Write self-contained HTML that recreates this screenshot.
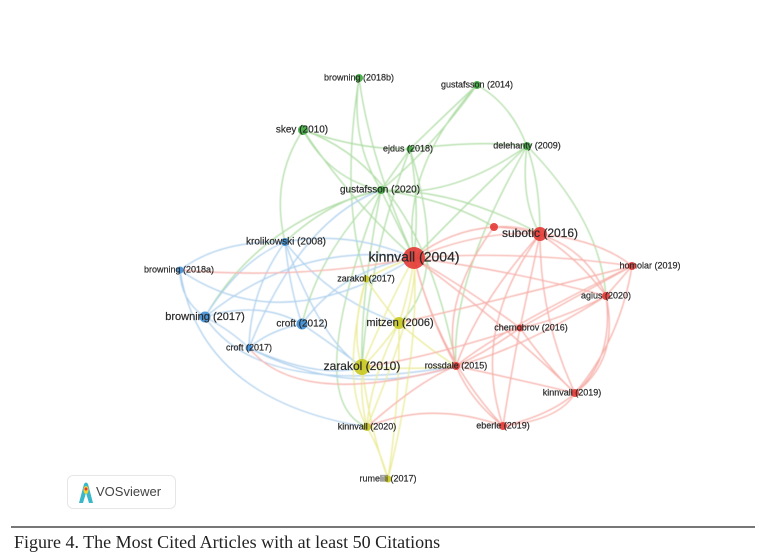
<!DOCTYPE html>
<html><head><meta charset="utf-8"><style>
html,body{margin:0;padding:0;background:#fff;}
body{width:769px;height:560px;position:relative;overflow:hidden;}
svg{position:absolute;left:0;top:0;}
.l{font-family:"Liberation Sans",sans-serif;fill:#2a2a2a;stroke:#2a2a2a;stroke-width:0.2;}
.cap{position:absolute;left:14px;top:532px;font-family:"Liberation Serif",serif;font-size:18px;color:#222;}
.rule{position:absolute;left:11px;top:526px;width:744px;height:2px;background:#777;}
.logo{position:absolute;left:67px;top:475px;width:107px;height:32px;border:1px solid #e6e6e6;border-radius:6px;background:#fff;}
.logo span{position:absolute;left:28px;top:8px;font-family:"Liberation Sans",sans-serif;font-size:13px;color:#444;}
</style></head><body>
<svg width="769" height="560" viewBox="0 0 769 560">
<defs><filter id="b"><feGaussianBlur stdDeviation="0.4"/></filter></defs>
<g fill="none" stroke-width="1.2" opacity="0.55" filter="url(#b)">
<g stroke="#6cbf5a">
<path d="M359 78 Q350 140 381 190"/><path d="M359 78 Q370 160 414 258"/><path d="M359 78 Q340 200 366 279"/>
<path d="M477 85 Q430 150 381 190"/><path d="M477 85 Q450 110 410 149"/><path d="M477 85 Q540 120 540 234"/><path d="M477 85 Q400 170 414 258"/>
<path d="M303 130 Q330 180 381 190"/><path d="M303 130 Q360 150 410 149"/><path d="M303 130 Q270 180 285 242"/><path d="M303 130 Q350 200 414 258"/><path d="M303 130 Q420 170 456 366"/>
<path d="M410 149 Q395 170 381 190"/><path d="M410 149 Q420 200 414 258"/><path d="M410 149 Q480 140 527 146"/><path d="M410 149 Q450 280 399 323"/><path d="M410 149 Q370 250 362 367"/>
<path d="M527 146 Q450 200 381 190"/><path d="M527 146 Q470 200 414 258"/><path d="M527 146 Q600 220 606 296"/><path d="M527 146 Q450 280 456 366"/><path d="M527 146 Q520 200 540 234"/>
<path d="M381 190 Q330 200 285 242"/><path d="M381 190 Q260 220 205 317"/><path d="M381 190 Q320 250 302 324"/><path d="M381 190 Q400 230 414 258"/><path d="M381 190 Q360 300 362 367"/><path d="M381 190 Q460 190 540 234"/><path d="M381 190 Q300 400 367 427"/><path d="M381 190 Q450 200 494 227"/>
</g>
<g stroke="#6aa8de">
<path d="M285 242 Q220 240 180 270"/><path d="M285 242 Q240 260 205 317"/><path d="M285 242 Q290 290 302 324"/><path d="M285 242 Q250 290 249 348"/><path d="M285 242 Q350 230 414 258"/><path d="M285 242 Q330 300 399 323"/><path d="M285 242 Q320 340 362 367"/>
<path d="M180 270 Q180 300 205 317"/><path d="M180 270 Q280 340 414 258"/><path d="M180 270 Q200 400 367 427"/>
<path d="M205 317 Q230 330 249 348"/><path d="M205 317 Q260 300 302 324"/><path d="M205 317 Q300 240 414 258"/><path d="M205 317 Q260 400 456 366"/>
<path d="M302 324 Q270 330 249 348"/><path d="M302 324 Q340 350 362 367"/><path d="M302 324 Q340 270 414 258"/>
<path d="M249 348 Q320 380 362 367"/><path d="M249 348 Q300 220 381 190"/><path d="M249 348 Q350 400 456 366"/>
</g>
<g stroke="#d8d83a">
<path d="M366 279 Q390 265 414 258"/><path d="M366 279 Q380 300 399 323"/><path d="M366 279 Q350 330 362 367"/><path d="M366 279 Q340 380 367 427"/>
<path d="M399 323 Q410 290 414 258"/><path d="M399 323 Q380 350 362 367"/><path d="M399 323 Q400 400 388 479"/><path d="M399 323 Q370 380 367 427"/><path d="M399 323 Q430 350 456 366"/>
<path d="M362 367 Q390 300 414 258"/><path d="M362 367 Q360 400 367 427"/><path d="M362 367 Q370 430 388 479"/><path d="M362 367 Q420 370 456 366"/>
<path d="M367 427 Q380 450 388 479"/><path d="M367 427 Q420 300 414 258"/><path d="M388 479 Q420 350 414 258"/>
</g>
<g stroke="#ee6a5e">
<path d="M414 258 Q480 230 540 234"/><path d="M414 258 Q450 230 494 227"/><path d="M414 258 Q520 250 632 266"/><path d="M414 258 Q510 270 606 296"/><path d="M414 258 Q470 290 520 328"/><path d="M414 258 Q430 320 456 366"/><path d="M414 258 Q500 320 575 393"/><path d="M414 258 Q440 360 503 426"/><path d="M414 258 Q300 280 180 270"/>
<path d="M494 227 Q520 225 540 234"/><path d="M494 227 Q580 230 606 296"/><path d="M494 227 Q440 300 456 366"/>
<path d="M540 234 Q600 240 632 266"/><path d="M540 234 Q580 260 606 296"/><path d="M540 234 Q530 280 520 328"/><path d="M540 234 Q480 300 456 366"/><path d="M540 234 Q540 320 575 393"/><path d="M540 234 Q470 330 503 426"/>
<path d="M632 266 Q620 280 606 296"/><path d="M632 266 Q570 300 520 328"/><path d="M632 266 Q500 330 456 366"/><path d="M632 266 Q620 340 575 393"/><path d="M632 266 Q500 300 399 323"/>
<path d="M606 296 Q560 320 520 328"/><path d="M606 296 Q520 350 456 366"/><path d="M606 296 Q620 360 575 393"/><path d="M606 296 Q620 400 503 426"/>
<path d="M520 328 Q490 350 456 366"/><path d="M520 328 Q550 370 575 393"/><path d="M520 328 Q510 380 503 426"/><path d="M520 328 Q420 360 362 367"/>
<path d="M456 366 Q520 380 575 393"/><path d="M456 366 Q470 400 503 426"/><path d="M456 366 Q420 380 367 427"/><path d="M503 426 Q560 420 575 393"/>
<path d="M503 426 Q430 400 367 427"/><path d="M456 366 Q300 410 249 348"/>
</g>
</g>
<g opacity="0.9">
<circle cx="414" cy="258" r="11" fill="#e53935"/>
<circle cx="540" cy="234" r="7" fill="#e53935"/>
<circle cx="494" cy="227" r="4" fill="#e53935"/>
<circle cx="632" cy="266" r="4" fill="#e53935"/>
<circle cx="606" cy="296" r="4" fill="#e53935"/>
<circle cx="520" cy="328" r="3.5" fill="#e53935"/>
<circle cx="456" cy="366" r="4" fill="#e53935"/>
<circle cx="575" cy="393" r="4" fill="#e53935"/>
<circle cx="503" cy="426" r="4" fill="#e53935"/>
<circle cx="359" cy="78" r="4" fill="#3caa3c"/>
<circle cx="477" cy="85" r="4" fill="#3caa3c"/>
<circle cx="303" cy="130" r="5" fill="#3caa3c"/>
<circle cx="410" cy="149" r="3.5" fill="#3caa3c"/>
<circle cx="527" cy="146" r="4" fill="#3caa3c"/>
<circle cx="381" cy="190" r="4" fill="#3caa3c"/>
<circle cx="285" cy="242" r="4" fill="#3d8fd6"/>
<circle cx="180" cy="270" r="3.5" fill="#3d8fd6"/>
<circle cx="205" cy="317" r="5.5" fill="#3d8fd6"/>
<circle cx="302" cy="324" r="5.5" fill="#3d8fd6"/>
<circle cx="249" cy="348" r="3.5" fill="#3d8fd6"/>
<circle cx="366" cy="279" r="3.5" fill="#c8c820"/>
<circle cx="399" cy="323" r="6" fill="#c8c820"/>
<circle cx="362" cy="367" r="8" fill="#c8c820"/>
<circle cx="367" cy="427" r="4" fill="#c8c820"/>
<circle cx="388" cy="479" r="3.5" fill="#c8c820"/>
</g>
<g class="l" text-anchor="middle" dominant-baseline="middle">
<text x="414" y="258" font-size="14">kinnvall (2004)</text>
<text x="540" y="234" font-size="12">subotic (2016)</text>
<text x="650" y="266" font-size="9">homolar (2019)</text>
<text x="606" y="296" font-size="9">agius (2020)</text>
<text x="531" y="328" font-size="9">chernobrov (2016)</text>
<text x="456" y="366" font-size="9">rossdale (2015)</text>
<text x="572" y="393" font-size="9">kinnvall (2019)</text>
<text x="503" y="426" font-size="9">eberle (2019)</text>
<text x="359" y="78" font-size="9">browning (2018b)</text>
<text x="477" y="85" font-size="9">gustafsson (2014)</text>
<text x="302" y="130" font-size="10">skey (2010)</text>
<text x="408" y="149" font-size="9">ejdus (2018)</text>
<text x="527" y="146" font-size="9">delehanty (2009)</text>
<text x="380" y="190" font-size="10">gustafsson (2020)</text>
<text x="286" y="242" font-size="10">krolikowski (2008)</text>
<text x="179" y="270" font-size="9">browning (2018a)</text>
<text x="205" y="317" font-size="11">browning (2017)</text>
<text x="302" y="324" font-size="10">croft (2012)</text>
<text x="249" y="348" font-size="9">croft (2017)</text>
<text x="366" y="279" font-size="9">zarakol (2017)</text>
<text x="400" y="323" font-size="11">mitzen (2006)</text>
<text x="362" y="367" font-size="12">zarakol (2010)</text>
<text x="367" y="427" font-size="9">kinnvall (2020)</text>
<text x="388" y="479" font-size="9">rumelili (2017)</text>
</g>
</svg>
<div class="logo">
<svg width="20" height="24" style="left:8px;top:5px" viewBox="0 0 20 24">
<path d="M3 22 L8 3 Q10 0 12 3 L17 22 L13 22 L10 12 L7 22 Z" fill="#3ab7c8"/>
<ellipse cx="10" cy="9" rx="2.5" ry="4" fill="#f2d13a"/>
<circle cx="10" cy="8" r="1.5" fill="#e53935"/>
</svg>
<span>VOSviewer</span>
</div>
<div class="rule"></div>
<div class="cap">Figure 4. The Most Cited Articles with at least 50 Citations</div>
</body></html>
